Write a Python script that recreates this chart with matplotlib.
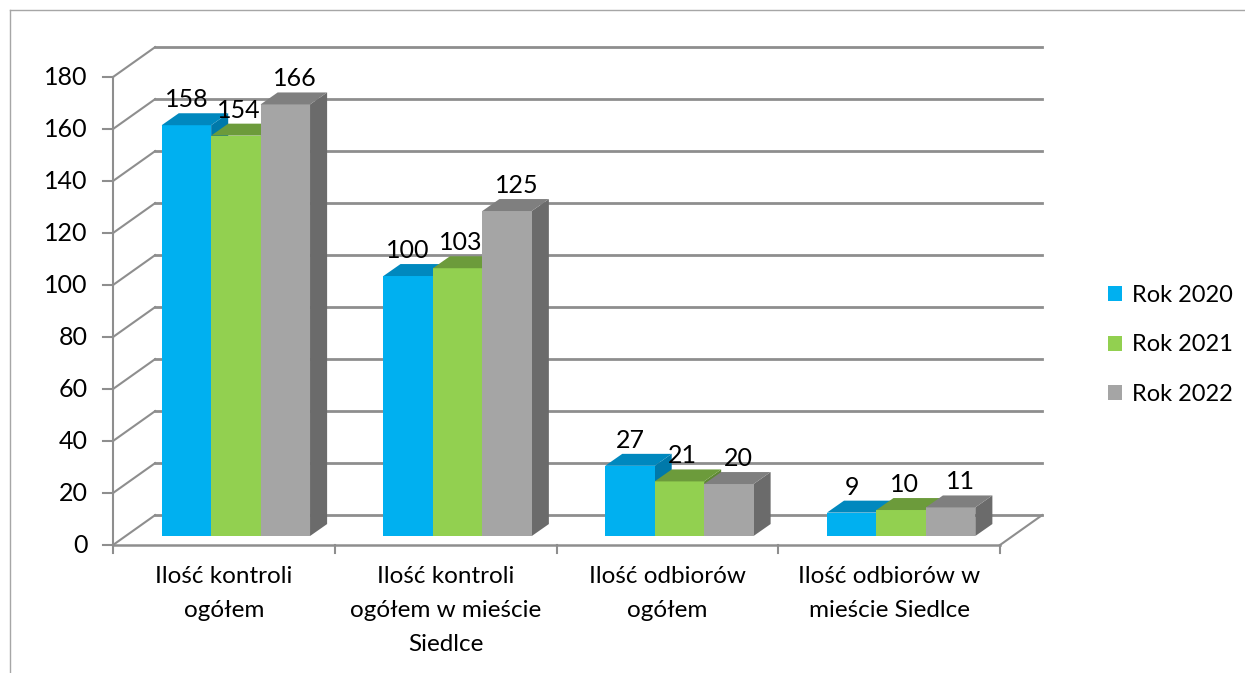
import matplotlib.pyplot as plt
from matplotlib.patches import Polygon, Patch
from matplotlib.lines import Line2D

plt.rcParams['font.family'] = ['Lato', 'DejaVu Sans']

categories = ["Ilość kontroli\nogółem",
              "Ilość kontroli\nogółem w mieście\nSiedlce",
              "Ilość odbiorów\nogółem",
              "Ilość odbiorów w\nmieście Siedlce"]
series = ["Rok 2020", "Rok 2021", "Rok 2022"]
v2020 = [158, 100, 27, 9]
v2021 = [154, 103, 21, 10]
v2022 = [166, 125, 20, 11]
yticks = [0, 20, 40, 60, 80, 100, 120, 140, 160, 180]

front_cols = ["#00B0F0", "#92D050", "#A5A5A5"]
top_cols = ["#0088BE", "#6C9B3B", "#7F7F7F"]
side_cols = ["#0079AA", "#5E8833", "#6B6B6B"]
grid_col = "#8E8E8E"

# fake 3d geometry (in data units)
DX, DY = 0.19, 11.5      # wall depth
SX, SY = 0.054, 3.46     # bars sit a bit behind the front edge
BX, BY = 0.077, 4.6      # bar depth
BW = 0.223               # bar width
label_dx = [0.0, 0.015, 0.045]

fig = plt.figure(figsize=(12.45, 6.73), dpi=100)
ax = fig.add_axes([0, 0, 1, 1])
ax.set_xlim(-0.5096, 5.1047)
ax.set_ylim(-49.23, 209.62)
ax.axis('off')

n = len(categories)

# walls and gridlines
ax.plot([0, 0], [0, yticks[-1]], color=grid_col, lw=1.5, zorder=1)
for t in yticks:
    ax.plot([-0.045, 0], [t, t], color=grid_col, lw=1.5, zorder=1)
    ax.plot([0, DX], [t, t + DY], color=grid_col, lw=1.5, zorder=1)
    ax.plot([DX, n + DX], [t + DY, t + DY], color=grid_col, lw=2, zorder=1)
    ax.text(-0.113, t, str(t), ha='right', va='center', fontsize=18)
ax.plot([0, n], [0, 0], color=grid_col, lw=1.8, zorder=1)
ax.plot([n, n + DX], [0, DY], color=grid_col, lw=1.5, zorder=1)
for i in range(n + 1):
    ax.plot([i, i], [0, -3.2], color=grid_col, lw=1.5, zorder=1)

for i, cat in enumerate(categories):
    ax.text(i + 0.5, -8.0, cat, ha='center', va='top', fontsize=17.5,
            linespacing=1.78)

# bars
data = [v2020, v2021, v2022]
for i in range(n):
    for s in range(len(series)):
        v = data[s][i]
        x0 = i + 0.5 - 1.5 * BW + s * BW + SX
        x1 = x0 + BW
        y0 = SY
        y1 = SY + v
        front = Polygon([(x0, y0), (x1, y0), (x1, y1), (x0, y1)],
                        closed=True, fc=front_cols[s], ec='none', zorder=3)
        side = Polygon([(x1, y0), (x1 + BX, y0 + BY), (x1 + BX, y1 + BY), (x1, y1)],
                       closed=True, fc=side_cols[s], ec='none', zorder=3)
        top = Polygon([(x0, y1), (x1, y1), (x1 + BX, y1 + BY), (x0 + BX, y1 + BY)],
                      closed=True, fc=top_cols[s], ec='none', zorder=3)
        ax.add_patch(side)
        ax.add_patch(front)
        ax.add_patch(top)
        ax.text((x0 + x1) / 2 + label_dx[s], y1 + 9.8, str(v), ha='center',
                va='center', fontsize=18, zorder=4)

handles = [Patch(fc=c, ec='none') for c in front_cols]
fig.legend(handles, series, loc='center left',
           bbox_to_anchor=(1087 / 1245, 1 - 345 / 673), frameon=False,
           fontsize=17, handlelength=0.6, handleheight=0.6, handletextpad=0.4,
           labelspacing=1.2)

# outer chart border
fig.add_artist(Line2D([10 / 1245, 10 / 1245], [0, 1 - 10 / 673],
                      transform=fig.transFigure, color="#A6A6A6", lw=1))
fig.add_artist(Line2D([10 / 1245, 1], [1 - 10 / 673, 1 - 10 / 673],
                      transform=fig.transFigure, color="#A6A6A6", lw=1))

fig.savefig("out.png", dpi=100)
